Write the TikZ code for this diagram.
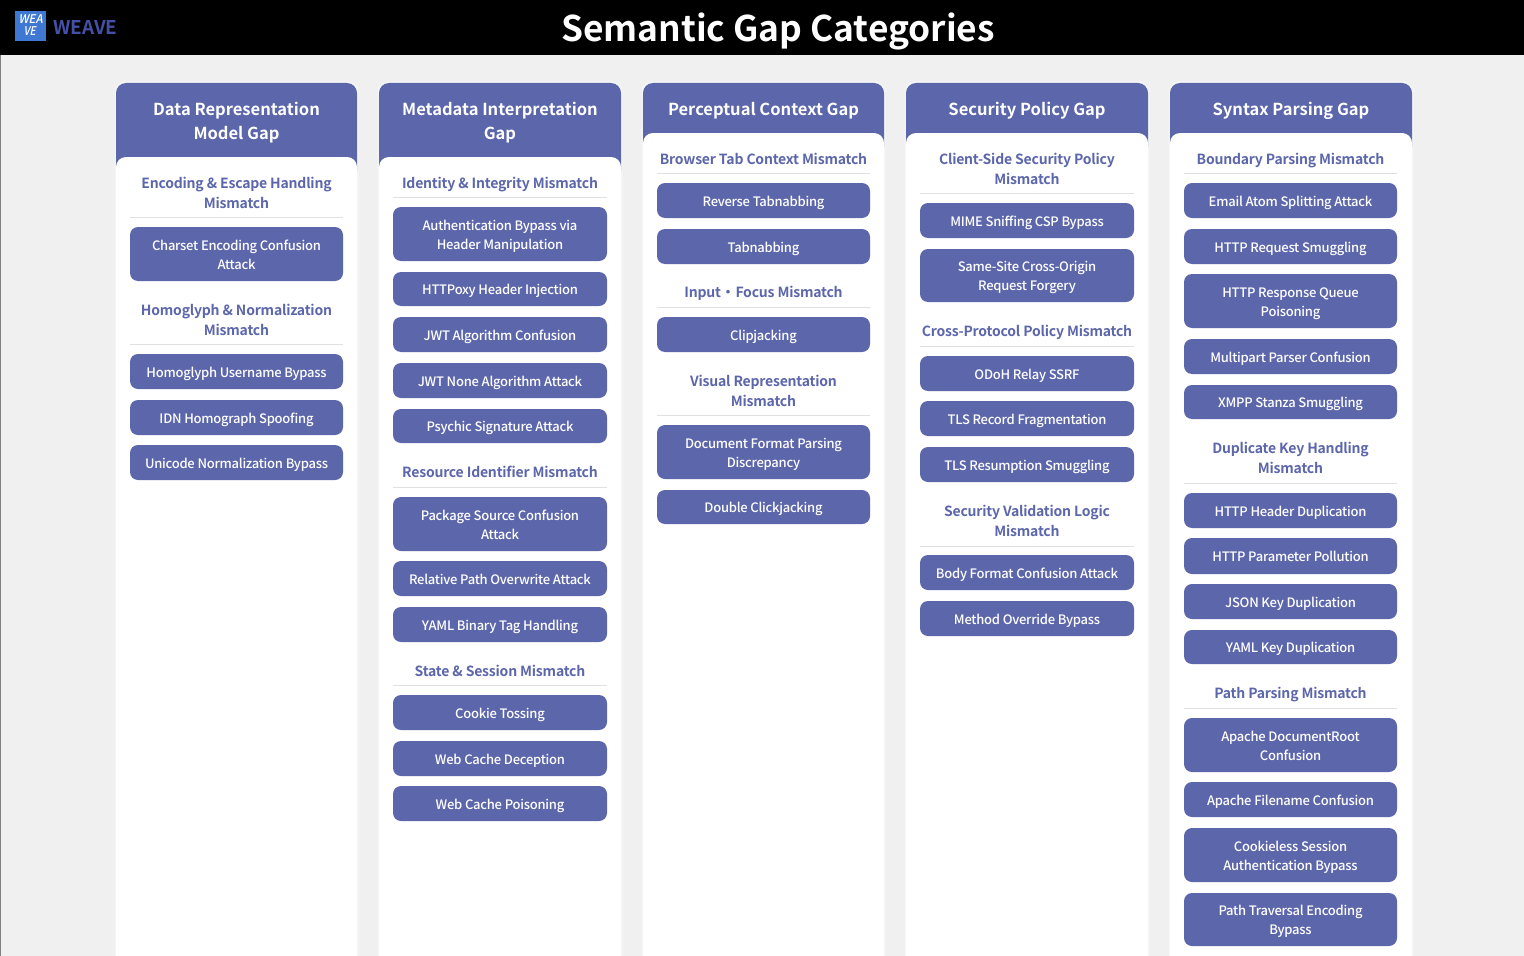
\documentclass[tikz,border=0pt]{standalone}
\usepackage{fontspec}
\setmainfont{Noto Sans CJK KR}[BoldFont={Noto Sans CJK KR Bold}]
\newfontfamily\medfont{Noto Sans CJK KR Medium}
\newfontfamily\boxfont{Noto Sans CJK KR Medium}[LetterSpace=-1.9]
\newfontfamily\subfont{Noto Sans CJK KR Bold}[LetterSpace=-1.5]
\definecolor{ink}{HTML}{5C66AB}
\definecolor{pagebg}{HTML}{F0F0F0}
\definecolor{rulecol}{HTML}{E0E0E0}
\definecolor{logoblue}{HTML}{3F78D2}
\definecolor{wv}{HTML}{4450A6}
\tikzset{x=0.75pt,y=-0.75pt,
 attack/.style={fill=ink,rounded corners=6pt,inner sep=0pt,text=white,align=center,font=\boxfont\fontsize{9.75}{14.25}\selectfont},
 subhead/.style={text=ink,inner sep=0pt,align=center,font=\subfont\fontsize{10.5}{15}\selectfont},
 head/.style={text=white,inner sep=0pt,align=center,font=\bfseries\fontsize{12.4}{18}\selectfont},
 divider/.style={draw=rulecol,line width=0.75pt},
}
\newcommand{\vstrut}[2]{\rule[-#2pt]{0pt}{\dimexpr#1pt+#2pt\relax}}
% name x1 x2 y1 y2 text
\newcommand{\bx}[6]{\node[attack,minimum width={(#3-#2)*0.75pt},minimum height={(#5-#4)*0.75pt}] (#1) at ({(#2+#3)/2},{(#4+#5)/2}) {\vstrut{10.9}{2.2}#6\vstrut{10.9}{2.2}};}
% name x1 x2 ycentre ydiv text
\newcommand{\sh}[6]{\node[subhead] (#1) at ({(#2+#3)/2},#4) {\vstrut{10.4}{2.5}#6\vstrut{10.4}{2.5}};\draw[divider] (#2,#5) -- (#3,#5);}
% name x1 x2 bodytop ycentre text
\newcommand{\col}[6]{%
 \fill[black!4,rounded corners=8pt] (#2-1.5,81) rectangle (#3+1.5,990);
 \fill[ink,rounded corners=7.5pt] (#2,83) rectangle (#3,#4+24);
 \fill[white,rounded corners=7.5pt] (#2,#4) rectangle (#3,1000);
 \node[head] (#1) at ({(#2+#3)/2},#5) {\vstrut{12.5}{3}#6\vstrut{12.5}{3}};}
\begin{document}
\begin{tikzpicture}
\useasboundingbox (0,0) rectangle (1524,956);
\fill[pagebg] (0,0) rectangle (1524,956);
\fill[gray] (0,55) rectangle (1,956);
\fill[black] (0,0) rectangle (1524,55);
\fill[logoblue] (15,11) rectangle (46,41);
\node[text=white,inner sep=0pt,font=\medfont\fontsize{9}{9}\selectfont,xslant=0.2,xscale=0.95] (logoa) at (31.5,19) {WEA};
\node[text=white,inner sep=0pt,font=\medfont\fontsize{9}{9}\selectfont,xslant=0.2,xscale=0.85] (logob) at (30.5,31) {VE};
\node[text=wv,anchor=base,inner sep=0pt,font=\bfseries\fontsize{14.2}{18}\selectfont] (brand) at (85.5,34.5) {WEAVE};
\node[text=white,anchor=base,inner sep=0pt,font=\bfseries\fontsize{26.5}{32}\selectfont] (title) at (778,42) {Semantic Gap Categories};

\col{c1}{116}{357}{157}{121}{Data Representation\\Model Gap}
\col{c2}{379}{621}{157}{121}{Metadata Interpretation\\Gap}
\col{c3}{643}{884}{133}{109}{Perceptual Context Gap}
\col{c4}{906}{1148}{133}{109}{Security Policy Gap}
\col{c5}{1170}{1412}{133}{109}{Syntax Parsing Gap}

\sh{a1}{130}{343}{193}{217}{Encoding \& Escape Handling\\Mismatch}
\bx{a1a}{130}{343}{227}{281}{Charset Encoding Confusion\\Attack}
\sh{a2}{130}{343}{320}{344}{Homoglyph \& Normalization\\Mismatch}
\bx{a2a}{130}{343}{354}{389}{Homoglyph Username Bypass}
\bx{a2b}{130}{343}{400}{435}{IDN Homograph Spoofing}
\bx{a2c}{130}{343}{445}{480}{Unicode Normalization Bypass}

\sh{b1}{393}{607}{183}{197}{Identity \& Integrity Mismatch}
\bx{b1a}{393}{607}{207}{261}{Authentication Bypass via\\Header Manipulation}
\bx{b1b}{393}{607}{272}{306}{HTTPoxy Header Injection}
\bx{b1c}{393}{607}{317}{352}{JWT Algorithm Confusion}
\bx{b1d}{393}{607}{363}{398}{JWT None Algorithm Attack}
\bx{b1e}{393}{607}{409}{443}{Psychic Signature Attack}
\sh{b2}{393}{607}{472}{487}{Resource Identifier Mismatch}
\bx{b2a}{393}{607}{497}{551}{Package Source Confusion\\Attack}
\bx{b2b}{393}{607}{561}{596}{Relative Path Overwrite Attack}
\bx{b2c}{393}{607}{607}{642}{YAML Binary Tag Handling}
\sh{b3}{393}{607}{671}{685}{State \& Session Mismatch}
\bx{b3a}{393}{607}{695}{730}{Cookie Tossing}
\bx{b3b}{393}{607}{741}{776}{Web Cache Deception}
\bx{b3c}{393}{607}{786}{821}{Web Cache Poisoning}

\sh{d1}{657}{870}{159}{173}{Browser Tab Context Mismatch}
\bx{d1a}{657}{870}{183}{218}{Reverse Tabnabbing}
\bx{d1b}{657}{870}{229}{264}{Tabnabbing}
\sh{d2}{657}{870}{292}{307}{Input\kern-2pt{} ・\kern-2pt{} Focus Mismatch}
\bx{d2a}{657}{870}{317}{352}{Clipjacking}
\sh{d3}{657}{870}{391}{415}{Visual Representation\\Mismatch}
\bx{d3a}{657}{870}{425}{479}{Document Format Parsing\\Discrepancy}
\bx{d3b}{657}{870}{490}{524}{Double Clickjacking}

\sh{e1}{920}{1134}{169}{193}{Client-Side Security Policy\\Mismatch}
\bx{e1a}{920}{1134}{203}{238}{MIME Sniffing CSP Bypass}
\bx{e1b}{920}{1134}{249}{302}{Same-Site Cross-Origin\\Request Forgery}
\sh{e2}{920}{1134}{331}{346}{Cross-Protocol Policy Mismatch}
\bx{e2a}{920}{1134}{356}{391}{ODoH Relay SSRF}
\bx{e2b}{920}{1134}{401}{436}{TLS Record Fragmentation}
\bx{e2c}{920}{1134}{447}{482}{TLS Resumption Smuggling}
\sh{e3}{920}{1134}{521}{546}{Security Validation Logic\\Mismatch}
\bx{e3a}{920}{1134}{555}{590}{Body Format Confusion Attack}
\bx{e3b}{920}{1134}{601}{636}{Method Override Bypass}

\sh{f1}{1184}{1397}{159}{173}{Boundary Parsing Mismatch}
\bx{f1a}{1184}{1397}{183}{218}{Email Atom Splitting Attack}
\bx{f1b}{1184}{1397}{229}{264}{HTTP Request Smuggling}
\bx{f1c}{1184}{1397}{274}{328}{HTTP Response Queue\\Poisoning}
\bx{f1d}{1184}{1397}{339}{374}{Multipart Parser Confusion}
\bx{f1e}{1184}{1397}{385}{419}{XMPP Stanza Smuggling}
\sh{f2}{1184}{1397}{458}{483}{Duplicate Key Handling\\Mismatch}
\bx{f2a}{1184}{1397}{493}{528}{HTTP Header Duplication}
\bx{f2b}{1184}{1397}{538}{574}{HTTP Parameter Pollution}
\bx{f2c}{1184}{1397}{584}{619}{JSON Key Duplication}
\bx{f2d}{1184}{1397}{630}{664}{YAML Key Duplication}
\sh{f3}{1184}{1397}{693}{708}{Path Parsing Mismatch}
\bx{f3a}{1184}{1397}{718}{772}{Apache DocumentRoot\\Confusion}
\bx{f3b}{1184}{1397}{782}{817}{Apache Filename Confusion}
\bx{f3c}{1184}{1397}{828}{882}{Cookieless Session\\Authentication Bypass}
\bx{f3d}{1184}{1397}{893}{946}{Path Traversal Encoding\\Bypass}
\end{tikzpicture}
\end{document}
